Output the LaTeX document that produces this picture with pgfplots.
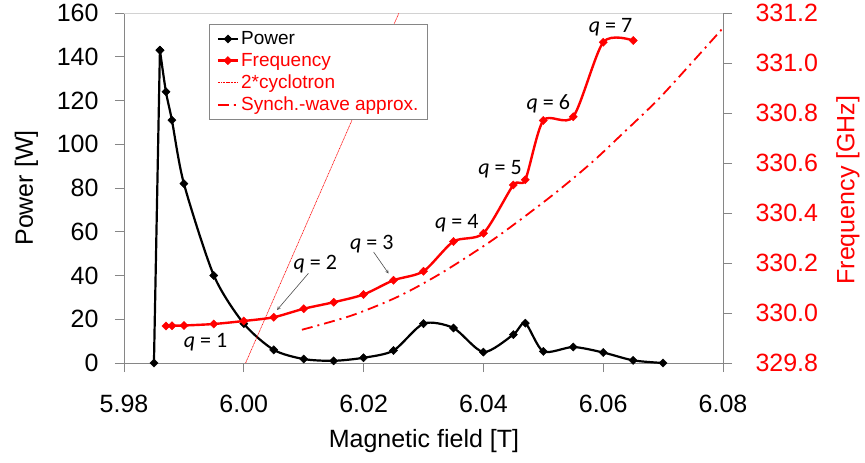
\documentclass[border=0pt]{standalone}
\usepackage{pgfplots}
\pgfplotsset{compat=1.18}
\usepackage{fontspec}
\setmainfont{Liberation Sans}
\newfontfamily\calib{Carlito}
\definecolor{axgray}{RGB}{134,134,134}
\newcommand\lf{\fontsize{19}{22}\selectfont}

\pgfplotstableread{
B P
5.986 143
5.987 124
5.988 111
5.990 82
5.995 40
6.000 18
6.005 6
6.010 1.8
6.015 1
6.020 2.4
6.025 5.7
6.030 18
6.035 16
6.040 5
6.045 13
6.047 18.2
6.050 5.3
6.055 7.3
6.060 4.8
6.065 1.2
6.070 0
}\powertab

\pgfplotstableread{
B F
5.987 329.948
5.988 329.949
5.990 329.950
5.995 329.956
6.000 329.968
6.005 329.983
6.010 330.017
6.015 330.043
6.020 330.074
6.025 330.131
6.030 330.167
6.035 330.286
6.040 330.319
6.045 330.512
6.047 330.533
6.050 330.770
6.055 330.785
6.060 331.083
6.065 331.090
}\freqtab

\pgfplotstableread{
B F
6.0097 329.933
6.018 329.990
6.0258 330.066
6.033 330.160
6.0408 330.280
6.046 330.370
6.052 330.480
6.058 330.600
6.063 330.712
6.069 330.850
6.074 330.980
6.080 331.140
}\synchtab

\pgfplotsset{
  common/.style={
    at={(0,0)}, anchor=south west,
    scale only axis, width=599pt, height=350pt,
    xmin=5.98, xmax=6.08,
    scaled x ticks=false, scaled y ticks=false,
    tick align=outside, major tick length=9pt,
    tick style={axgray, line width=0.8pt},
    axis line style={-, axgray, line width=0.8pt},
    /pgf/number format/assume math mode=true,
    tick label style={font=\fontsize{25}{28}\selectfont},
    label style={font=\fontsize{25}{28}\selectfont},
  },
  dmark/.style={mark=square*, mark size=2.9pt, mark options={rotate=45, solid, line width=0.4pt}},
}

\begin{document}
\begin{tikzpicture}[x=1pt,y=1pt]
\useasboundingbox (-124,-100) rectangle (741,363);
\begin{axis}[
  common,
  ymin=0, ymax=160,
  axis x line*=bottom, axis y line*=left,
  xtick={5.98,6.00,6.02,6.04,6.06,6.08},
  ytick={0,20,40,60,80,100,120,140,160},
  xticklabel style={yshift=-20pt, /pgf/number format/.cd, fixed, fixed zerofill, precision=2},
  yticklabel style={xshift=-13pt, /pgf/number format/.cd, fixed, precision=0},
  xlabel={Magnetic field [T]},
  ylabel={Power [W]},
  xlabel style={at={(axis description cs:0.5008,-0.223)}, anchor=center},
  ylabel style={at={(axis description cs:-0.163,0.5)}, anchor=center, rotate=0},
]
\draw[gray!35, line width=0.8pt] (rel axis cs:0,1) -- (rel axis cs:1,1);
\addplot[black, line width=2.2pt, dmark] coordinates {(5.985,0) (5.986,143)};
\addplot[black, line width=2.2pt, smooth, tension=0.45, dmark] table[x=B, y=P] {\powertab};
\end{axis}

\begin{axis}[
  common,
  ymin=329.8, ymax=331.2,
  axis y line*=right, axis x line=none,
  ytick={329.8,330.0,330.2,330.4,330.6,330.8,331.0,331.2},
  yticklabel style={text=red, xshift=20pt, /pgf/number format/.cd, fixed, fixed zerofill, precision=1},
  ylabel={Frequency [GHz]},
  ylabel style={text=red, at={(axis description cs:1.2087,0.494)}, anchor=center, rotate=0},
  clip mode=individual,
  legend style={at={(rel axis cs:0.1424,0.9677)}, anchor=north west, draw=axgray, line width=0.8pt, fill=white,
    font=\lf, row sep=3pt, inner xsep=7pt, inner ysep=5pt,
    cells={anchor=west}},
  legend image code/.code={\draw[mark repeat=2, mark phase=2, #1] plot coordinates {(0pt,0pt) (10pt,0pt) (20pt,0pt)};},
]
\addlegendimage{black, line width=2.2pt, dmark}
\addlegendentry{\lf Power}
\addplot[red, line width=2.4pt, smooth, tension=0.45, dmark] table[x=B, y=F] {\freqtab};
\addlegendentry{\lf\textcolor{red}{Frequency}}
\addplot[red, line width=0.6pt, dash pattern=on 1pt off 0.6pt] coordinates {(6.0003,329.8) (6.0259,331.2)};
\addlegendentry{\lf\textcolor{red}{2*cyclotron}}
\addplot[red, line width=1.8pt, smooth, dash pattern=on 11pt off 5pt on 2pt off 5pt] table[x=B, y=F] {\synchtab};
\addlegendentry{\lf\textcolor{red}{Synch.-wave approx.}}

\draw[-stealth, black!70, line width=0.6pt] (axis cs:6.0108,330.159) -- (axis cs:6.00555,330.012);
\draw[-stealth, black!70, line width=0.6pt] (axis cs:6.02167,330.244) -- (axis cs:6.02417,330.158);

\begin{scope}[every node/.style={font=\calib\fontsize{22}{25}\selectfont, inner sep=0pt}]
\node at (axis cs:5.99362,329.882) {\textit{q} = 1};
\node at (axis cs:6.01195,330.195) {\textit{q} = 2};
\node at (axis cs:6.02138,330.277) {\textit{q} = 3};
\node at (axis cs:6.03555,330.359) {\textit{q} = 4};
\node at (axis cs:6.04278,330.575) {\textit{q} = 5};
\node at (axis cs:6.05083,330.836) {\textit{q} = 6};
\node at (axis cs:6.06122,331.145) {\textit{q} = 7};
\end{scope}
\end{axis}
\end{tikzpicture}
\end{document}
